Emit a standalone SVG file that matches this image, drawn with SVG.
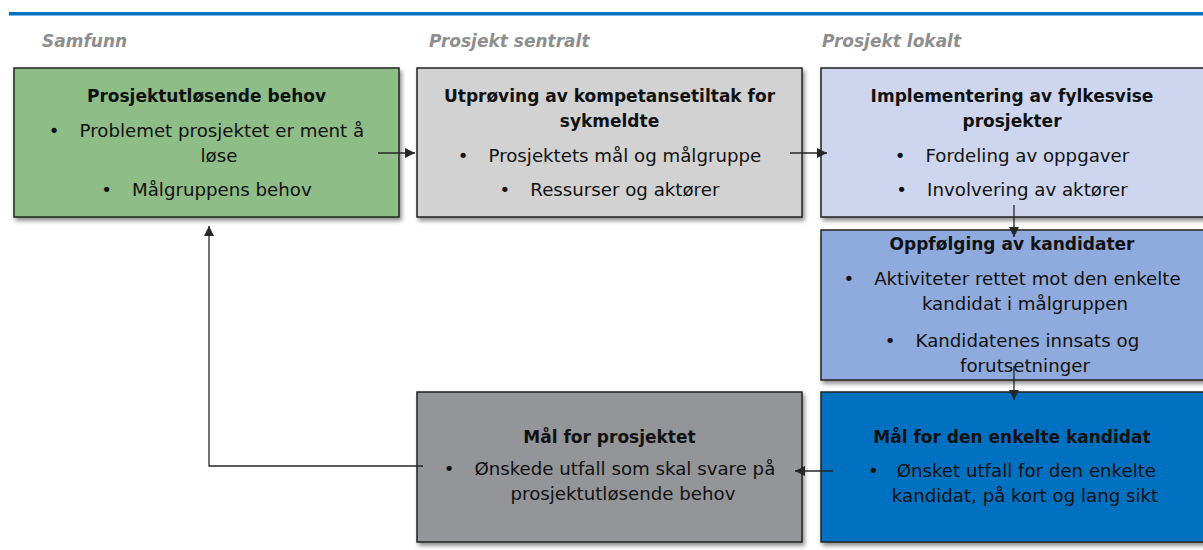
<svg xmlns="http://www.w3.org/2000/svg" width="1203" height="550" viewBox="0 0 1203 550">
<style>
.box{stroke:#222;stroke-width:1.5}
.hd{font-family:"DejaVu Sans",sans-serif;font-weight:bold;font-size:17px;fill:#111;text-anchor:middle}
.tx{font-family:"DejaVu Sans",sans-serif;font-size:18.2px;fill:#111;text-anchor:middle}
.lbl{font-family:"DejaVu Sans",sans-serif;font-weight:bold;font-style:italic;font-size:17px;fill:#8e8e8e}
.con{fill:none;stroke:#262626;stroke-width:1.3}
</style>
<defs>
<filter id="sh" x="-5%" y="-5%" width="115%" height="120%">
<feDropShadow dx="2" dy="3" stdDeviation="2" flood-color="#000" flood-opacity="0.45"/>
</filter>
<marker id="ah" markerUnits="userSpaceOnUse" markerWidth="10" markerHeight="10" refX="10" refY="5" orient="auto">
<path d="M0,0 L10,5 L0,10 z" fill="#262626"/>
</marker>
</defs>
<rect width="1203" height="550" fill="#fff"/>
<rect x="9" y="12" width="1194" height="3.5" fill="#0070c0"/>
<g id="labels">
<text class="lbl" x="42" y="47">Samfunn</text>
<text class="lbl" x="429" y="47">Prosjekt sentralt</text>
<text class="lbl" x="822" y="47">Prosjekt lokalt</text>
</g>
<g id="n-behov">
<rect class="box" x="14" y="68" width="385" height="149" fill="#8ebd88" filter="url(#sh)"/>
<text class="hd" x="206.5" y="102">Prosjektutløsende behov</text>
<text class="tx" x="206.5" y="137">•<tspan dx="20">Problemet prosjektet er ment å</tspan></text>
<text class="tx" x="219" y="162">løse</text>
<text class="tx" x="206.5" y="196">•<tspan dx="20">Målgruppens behov</tspan></text>
</g>
<g id="n-utproving">
<rect class="box" x="417" y="68" width="385" height="149" fill="#d2d2d2" filter="url(#sh)"/>
<text class="hd" x="609.5" y="102">Utprøving av kompetansetiltak for</text>
<text class="hd" x="609.5" y="127">sykmeldte</text>
<text class="tx" x="609.5" y="162">•<tspan dx="20">Prosjektets mål og målgruppe</tspan></text>
<text class="tx" x="609.5" y="196">•<tspan dx="20">Ressurser og aktører</tspan></text>
</g>
<g id="n-implementering">
<rect class="box" x="821" y="68" width="385" height="149" fill="#cdd6ee" filter="url(#sh)"/>
<text class="hd" x="1012" y="102">Implementering av fylkesvise</text>
<text class="hd" x="1012" y="127">prosjekter</text>
<text class="tx" x="1012" y="162">•<tspan dx="20">Fordeling av oppgaver</tspan></text>
<text class="tx" x="1012" y="196">•<tspan dx="20">Involvering av aktører</tspan></text>
</g>
<g id="n-oppfolging">
<rect class="box" x="821" y="230" width="385" height="150" fill="#8faadc" filter="url(#sh)"/>
<text class="hd" x="1012" y="250">Oppfølging av kandidater</text>
<text class="tx" x="1012" y="285">•<tspan dx="20">Aktiviteter rettet mot den enkelte</tspan></text>
<text class="tx" x="1025" y="310">kandidat i målgruppen</text>
<text class="tx" x="1012" y="347">•<tspan dx="20">Kandidatenes innsats og</tspan></text>
<text class="tx" x="1025" y="372">forutsetninger</text>
</g>
<g id="n-mal-kandidat">
<rect class="box" x="821" y="392" width="385" height="150" fill="#0070c0" filter="url(#sh)"/>
<text class="hd" x="1012" y="443">Mål for den enkelte kandidat</text>
<text class="tx" x="1012" y="477">•<tspan dx="18">Ønsket utfall for den enkelte</tspan></text>
<text class="tx" x="1025" y="502">kandidat, på kort og lang sikt</text>
</g>
<g id="n-mal-prosjekt">
<rect class="box" x="417" y="392" width="385" height="150" fill="#939598" filter="url(#sh)"/>
<text class="hd" x="609.5" y="443">Mål for prosjektet</text>
<text class="tx" x="609.5" y="475">•<tspan dx="20">Ønskede utfall som skal svare på</tspan></text>
<text class="tx" x="623" y="500">prosjektutløsende behov</text>
</g>
<g id="connectors">
<line class="con" x1="378" y1="153" x2="415" y2="153" marker-end="url(#ah)"/>
<line class="con" x1="790" y1="153" x2="827" y2="153" marker-end="url(#ah)"/>
<line class="con" x1="1014" y1="205" x2="1014" y2="237" marker-end="url(#ah)"/>
<line class="con" x1="1014" y1="366" x2="1014" y2="400" marker-end="url(#ah)"/>
<line class="con" x1="833" y1="471" x2="795" y2="471" marker-end="url(#ah)"/>
<polyline class="con" points="423,466 209,466 209,226" marker-end="url(#ah)"/>
</g>
</svg>
